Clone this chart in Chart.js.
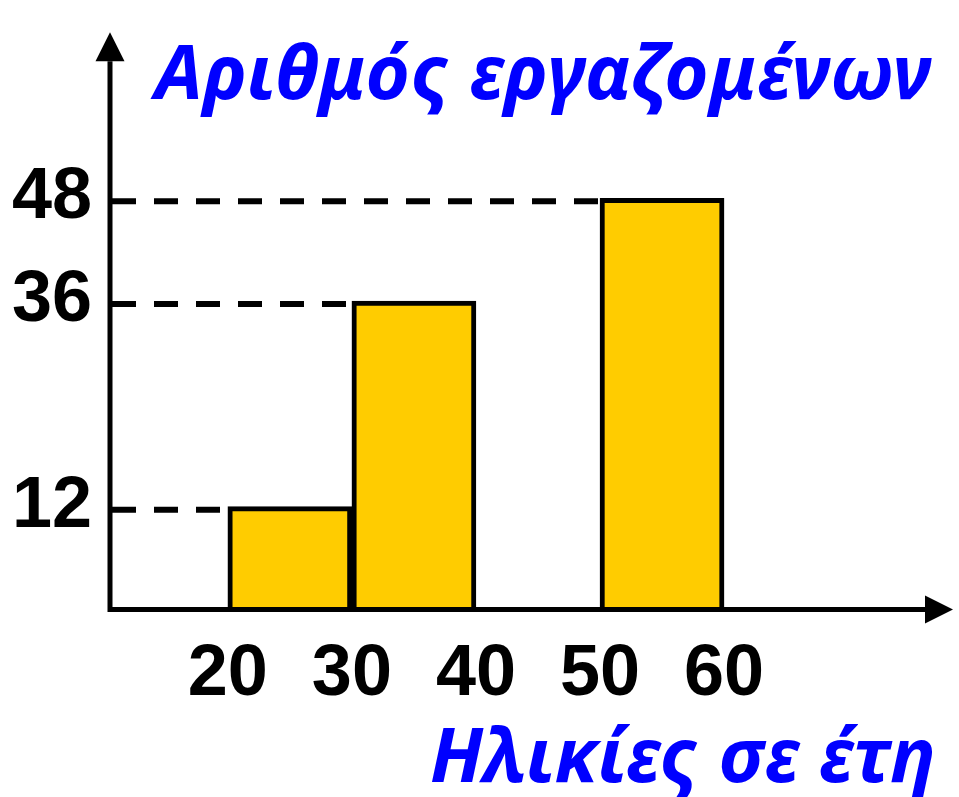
<!DOCTYPE html>
<html>
<head>
<meta charset="utf-8">
<script src="https://cdn.jsdelivr.net/npm/chart.js@4"></script>
<style>
    html, body { margin: 0; padding: 0; background: #fff; }
    #wrap { width: 959px; height: 797px; position: relative; }
</style>
</head>
<body>
<div id="wrap"><canvas id="chart-ages"></canvas></div>
<script>
    // Age classes (lower bound, upper bound) and number of employees in each
    const classStarts = [20, 30, 50];
    const classEnds = [30, 40, 60];
    const employees = [12, 36, 48];
    const xTicks = [20, 30, 40, 50, 60];
    const yTicks = [12, 36, 48];
    const yTitle = 'Αριθμός εργαζομένων';
    const xTitle = 'Ηλικίες σε έτη';

    const AXIS_WIDTH = 5;
    const BLUE = '#0000ff';

    // Axes with arrow heads, dashed guides to each bar and the two blue captions
    const axesPlugin = {
        id: 'axesPlugin',
        beforeDatasetsDraw(chart) {
            const { ctx, chartArea, scales } = chart;
            ctx.save();
            ctx.strokeStyle = '#000';
            ctx.lineWidth = 6;
            ctx.setLineDash([24, 18]);
            employees.forEach((v, i) => {
                const y = scales.y.getPixelForValue(v) + 3;
                const left = scales.x.getPixelForValue(classStarts[i]);
                ctx.beginPath();
                ctx.moveTo(chartArea.left + 2, y);
                ctx.lineTo(left, y);
                ctx.stroke();
            });
            ctx.restore();
        },
        afterDatasetsDraw(chart) {
            const { ctx, chartArea } = chart;
            const x0 = chartArea.left;
            const y0 = chartArea.bottom;
            ctx.save();
            ctx.strokeStyle = '#000';
            ctx.fillStyle = '#000';
            ctx.lineWidth = AXIS_WIDTH;

            ctx.beginPath();
            ctx.moveTo(x0, y0 + AXIS_WIDTH / 2);
            ctx.lineTo(x0, chartArea.top);
            ctx.moveTo(x0 - AXIS_WIDTH / 2, y0);
            ctx.lineTo(chartArea.right, y0);
            ctx.stroke();

            // arrow heads
            ctx.beginPath();
            ctx.moveTo(x0 - 14.5, chartArea.top);
            ctx.lineTo(x0, chartArea.top - 29);
            ctx.lineTo(x0 + 14.5, chartArea.top);
            ctx.closePath();
            ctx.fill();

            ctx.beginPath();
            ctx.moveTo(chartArea.right, y0 - 14);
            ctx.lineTo(chartArea.right + 28, y0);
            ctx.lineTo(chartArea.right, y0 + 14);
            ctx.closePath();
            ctx.fill();
            ctx.restore();
        },
        afterDraw(chart) {
            const { ctx } = chart;
            ctx.save();
            ctx.fillStyle = BLUE;
            ctx.font = "italic bold 76px 'Noto Sans'";
            ctx.textBaseline = 'alphabetic';
            ctx.textAlign = 'left';
            ctx.fillText(yTitle, 155, 99);
            ctx.fillText(xTitle, 430, 782);
            ctx.restore();
        }
    };

    const tickFont = { family: "'Liberation Sans', Arial, sans-serif", size: 72, weight: 'bold' };

    new Chart(
        document.getElementById('chart-ages'),
        {
            type: 'bar',
            data: {
                datasets: [
                    {
                        label: yTitle,
                        data: employees.map((v, i) => ({ x: (classStarts[i] + classEnds[i]) / 2, y: v })),
                        backgroundColor: '#ffcc00',
                        borderColor: '#000',
                        borderWidth: 5,
                        borderSkipped: 'start',
                        barPercentage: 1,
                        categoryPercentage: 1
                    }
                ]
            },
            options: {
                responsive: true,
                maintainAspectRatio: false,
                animation: false,
                layout: {
                    padding: { top: 39, right: 34, left: 0, bottom: 0 }
                },
                scales: {
                    x: {
                        type: 'linear',
                        offset: false,
                        min: 10.5,
                        max: 76.2,
                        grid: { display: false, drawTicks: false, offset: false },
                        border: { display: false },
                        afterBuildTicks: scale => { scale.ticks = xTicks.map(v => ({ value: v })); },
                        afterFit: scale => { scale.height = 187.5; },
                        ticks: {
                            color: '#000',
                            font: tickFont,
                            padding: 22,
                            maxRotation: 0,
                            autoSkip: false
                        }
                    },
                    y: {
                        min: 0,
                        max: 64,
                        grid: { display: false, drawTicks: false },
                        border: { display: false },
                        afterBuildTicks: scale => { scale.ticks = yTicks.map(v => ({ value: v })); },
                        afterFit: scale => { scale.width = 110; },
                        ticks: {
                            color: '#000',
                            font: tickFont,
                            padding: 18,
                            autoSkip: false
                        }
                    }
                },
                plugins: {
                    legend: { display: false },
                    tooltip: { enabled: false }
                }
            },
            plugins: [axesPlugin]
        }
    );
</script>
</body>
</html>
